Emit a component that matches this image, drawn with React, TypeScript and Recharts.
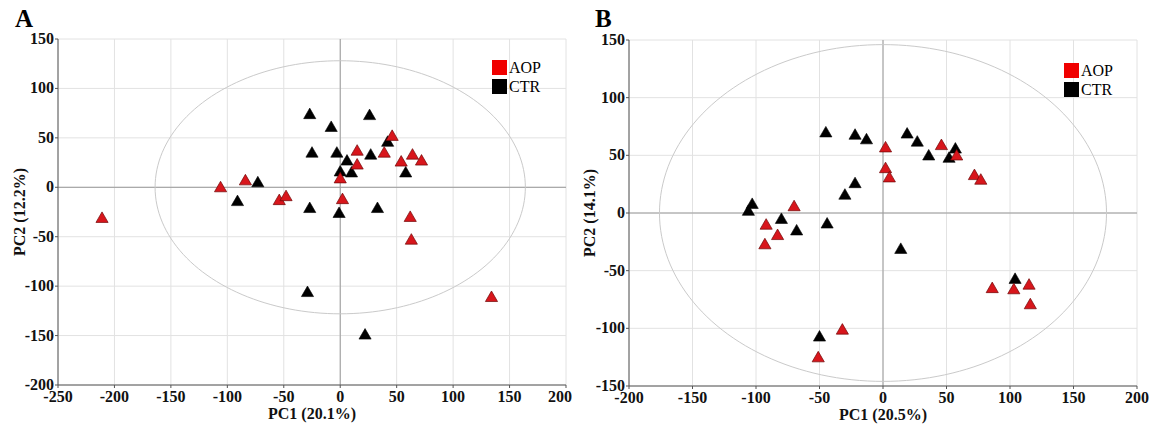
import React from "react";
import {
  ScatterChart,
  Scatter,
  XAxis,
  YAxis,
  ZAxis,
  CartesianGrid,
  ReferenceLine,
  Legend,
  Label,
} from "recharts";

// [PC1, PC2] scores
const aopA: [number, number][] = [
  [-211, -32], [-106, -1], [-84, 6], [-54, -14], [-48, -10],
  [46, 51], [15, 36], [39, 34], [64, 32], [54, 25], [72, 26], [15, 22],
  [0, 8], [2, -13], [62, -31], [63, -54], [134, -112],
];
const ctrA: [number, number][] = [
  [-73, 4], [-91, -15], [-27, 73], [26, 72], [-8, 60], [42, 45],
  [-25, 34], [-3, 34], [6, 26], [27, 32], [0, 15], [10, 14], [58, 14],
  [-27, -22], [-1, -27], [33, -22], [-29, -107], [22, -150],
];
const aopB: [number, number][] = [
  [-70, 5], [-92, -11], [-83, -20], [-93, -28], [-32, -102], [-51, -126],
  [46, 58], [2, 56], [58, 49], [2, 38], [5, 30], [72, 32], [77, 28],
  [86, -66], [103, -67], [115, -63], [116, -80],
];
const ctrB: [number, number][] = [
  [-45, 69], [-22, 67], [-13, 63], [-22, 25], [-30, 15], [-103, 7],
  [-106, 1], [-80, -6], [-68, -16], [-44, -10], [-50, -108], [19, 68],
  [27, 61], [57, 55], [36, 49], [52, 47], [14, -32], [104, -58],
];

const xTicksA = [-250, -200, -150, -100, -50, 0, 50, 100, 150, 200];
const yTicksA = [-200, -150, -100, -50, 0, 50, 100, 150];
const xTicksB = [-200, -150, -100, -50, 0, 50, 100, 150, 200];
const yTicksB = [-150, -100, -50, 0, 50, 100, 150];

// Hotelling T2 ellipse radii (PC1, PC2)
const ellipseA: [number, number] = [164, 128];
const ellipseB: [number, number] = [176, 146];

const groups = ["AOP", "CTR"];
const RED = "#d8161c";
const FONT = "'Liberation Serif', 'Times New Roman', serif";

const toPts = (arr: [number, number][]) => arr.map(([x, y]) => ({ x, y }));
const ellipsePts = ([a, b]: [number, number]) =>
  Array.from({ length: 181 }, (_, i) => {
    const t = (i / 180) * 2 * Math.PI;
    return { x: a * Math.cos(t), y: b * Math.sin(t) };
  });

const XTick = ({ x, y, payload }: any) => (
  <text x={x} y={y + 12} textAnchor="middle" fontFamily={FONT} fontSize={16} fontWeight={700} fill="#111">
    {payload.value}
  </text>
);
const YTick = ({ x, y, payload }: any) => (
  <text x={x} y={y + 5} textAnchor="end" fontFamily={FONT} fontSize={16} fontWeight={700} fill="#111">
    {payload.value}
  </text>
);

function LegendBox() {
  return (
    <div style={{ fontFamily: FONT, fontSize: 16, color: "#000" }}>
      {groups.map((g, i) => (
        <div key={g} style={{ display: "flex", alignItems: "center", height: 19 }}>
          <span style={{ width: 15, height: 15, background: i === 0 ? "#f00000" : "#000", marginRight: 2 }} />
          <span style={{ lineHeight: "15px" }}>{g}</span>
        </div>
      ))}
    </div>
  );
}

type PanelProps = {
  letter: string;
  width: number;
  yWidth: number;
  xHeight: number;
  top: number;
  right: number;
  xTicks: number[];
  yTicks: number[];
  aop: [number, number][];
  ctr: [number, number][];
  ellipse: [number, number];
  xLabel: string;
  yLabel: string;
  yLabelX: number;
  legendLeft: number;
  legendTop: number;
};

function Panel(p: PanelProps) {
  return (
    <div style={{ position: "relative", width: p.width, height: 429 }}>
      <div
        style={{ position: "absolute", left: 15, top: 6, fontFamily: FONT, fontWeight: 700, fontSize: 25, lineHeight: "25px" }}
      >
        {p.letter}
      </div>
      <ScatterChart width={p.width} height={429} margin={{ top: p.top, right: p.right, bottom: 0, left: 0 }}>
        <CartesianGrid stroke="#e2e2e2" strokeWidth={1} />
        <XAxis
          type="number"
          dataKey="x"
          domain={[p.xTicks[0], p.xTicks[p.xTicks.length - 1]]}
          ticks={p.xTicks}
          allowDataOverflow
          height={p.xHeight}
          tick={<XTick />}
          tickSize={3}
          tickMargin={2}
          stroke="#555"
        >
          <Label
            content={({ viewBox }: any) => (
              <text
                x={viewBox.x + viewBox.width / 2}
                y={viewBox.y + 28}
                textAnchor="middle"
                dominantBaseline="central"
                fontFamily={FONT}
                fontWeight={700}
                fontSize={16}
                fill="#111"
              >
                {p.xLabel}
              </text>
            )}
          />
        </XAxis>
        <YAxis
          type="number"
          dataKey="y"
          domain={[p.yTicks[0], p.yTicks[p.yTicks.length - 1]]}
          ticks={p.yTicks}
          allowDataOverflow
          width={p.yWidth}
          tick={<YTick />}
          tickSize={3}
          tickMargin={1}
          stroke="#555"
        >
          <Label
            content={({ viewBox }: any) => {
              const cx = p.yLabelX;
              const cy = viewBox.y + viewBox.height / 2;
              return (
                <text
                  x={cx}
                  y={cy}
                  transform={`rotate(-90, ${cx}, ${cy})`}
                  textAnchor="middle"
                  dominantBaseline="central"
                  fontFamily={FONT}
                  fontWeight={700}
                  fontSize={16}
                  fill="#111"
                >
                  {p.yLabel}
                </text>
              );
            }}
          />
        </YAxis>
        <ZAxis type="number" range={[46, 46]} />
        <ReferenceLine x={0} stroke="#9a9a9a" strokeWidth={1} />
        <ReferenceLine y={0} stroke="#9a9a9a" strokeWidth={1} />
        <Scatter
          data={ellipsePts(p.ellipse)}
          line={{ stroke: "#cacaca", strokeWidth: 1 }}
          shape={() => <g />}
          isAnimationActive={false}
        />
        <Scatter
          name="CTR"
          data={toPts(p.ctr)}
          shape="triangle"
          fill="#000"
          stroke="#000"
          strokeWidth={0.6}
          isAnimationActive={false}
        />
        <Scatter
          name="AOP"
          data={toPts(p.aop)}
          shape="triangle"
          fill={RED}
          stroke="#6e0606"
          strokeWidth={0.7}
          isAnimationActive={false}
        />
        <Legend
          layout="vertical"
          align="center"
          verticalAlign="middle"
          content={() => <LegendBox />}
          wrapperStyle={{ left: p.legendLeft, top: p.legendTop, width: 60, height: 40 }}
        />
      </ScatterChart>
    </div>
  );
}

export default function App() {
  return (
    <div style={{ position: "absolute", left: 0, top: 0, width: 1158, height: 429, background: "#fff", display: "flex" }}>
      <Panel
        letter="A"
        width={572}
        yWidth={58}
        xHeight={44}
        top={39}
        right={6}
        xTicks={xTicksA}
        yTicks={yTicksA}
        aop={aopA}
        ctr={ctrA}
        ellipse={ellipseA}
        xLabel="PC1 (20.1%)"
        yLabel="PC2 (12.2%)"
        yLabelX={19}
        legendLeft={492}
        legendTop={58}
      />
      <div style={{ width: 8 }} />
      <Panel
        letter="B"
        width={578}
        yWidth={49}
        xHeight={43}
        top={40}
        right={21}
        xTicks={xTicksB}
        yTicks={yTicksB}
        aop={aopB}
        ctr={ctrB}
        ellipse={ellipseB}
        xLabel="PC1 (20.5%)"
        yLabel="PC2 (14.1%)"
        yLabelX={9}
        legendLeft={484}
        legendTop={61}
      />
    </div>
  );
}
